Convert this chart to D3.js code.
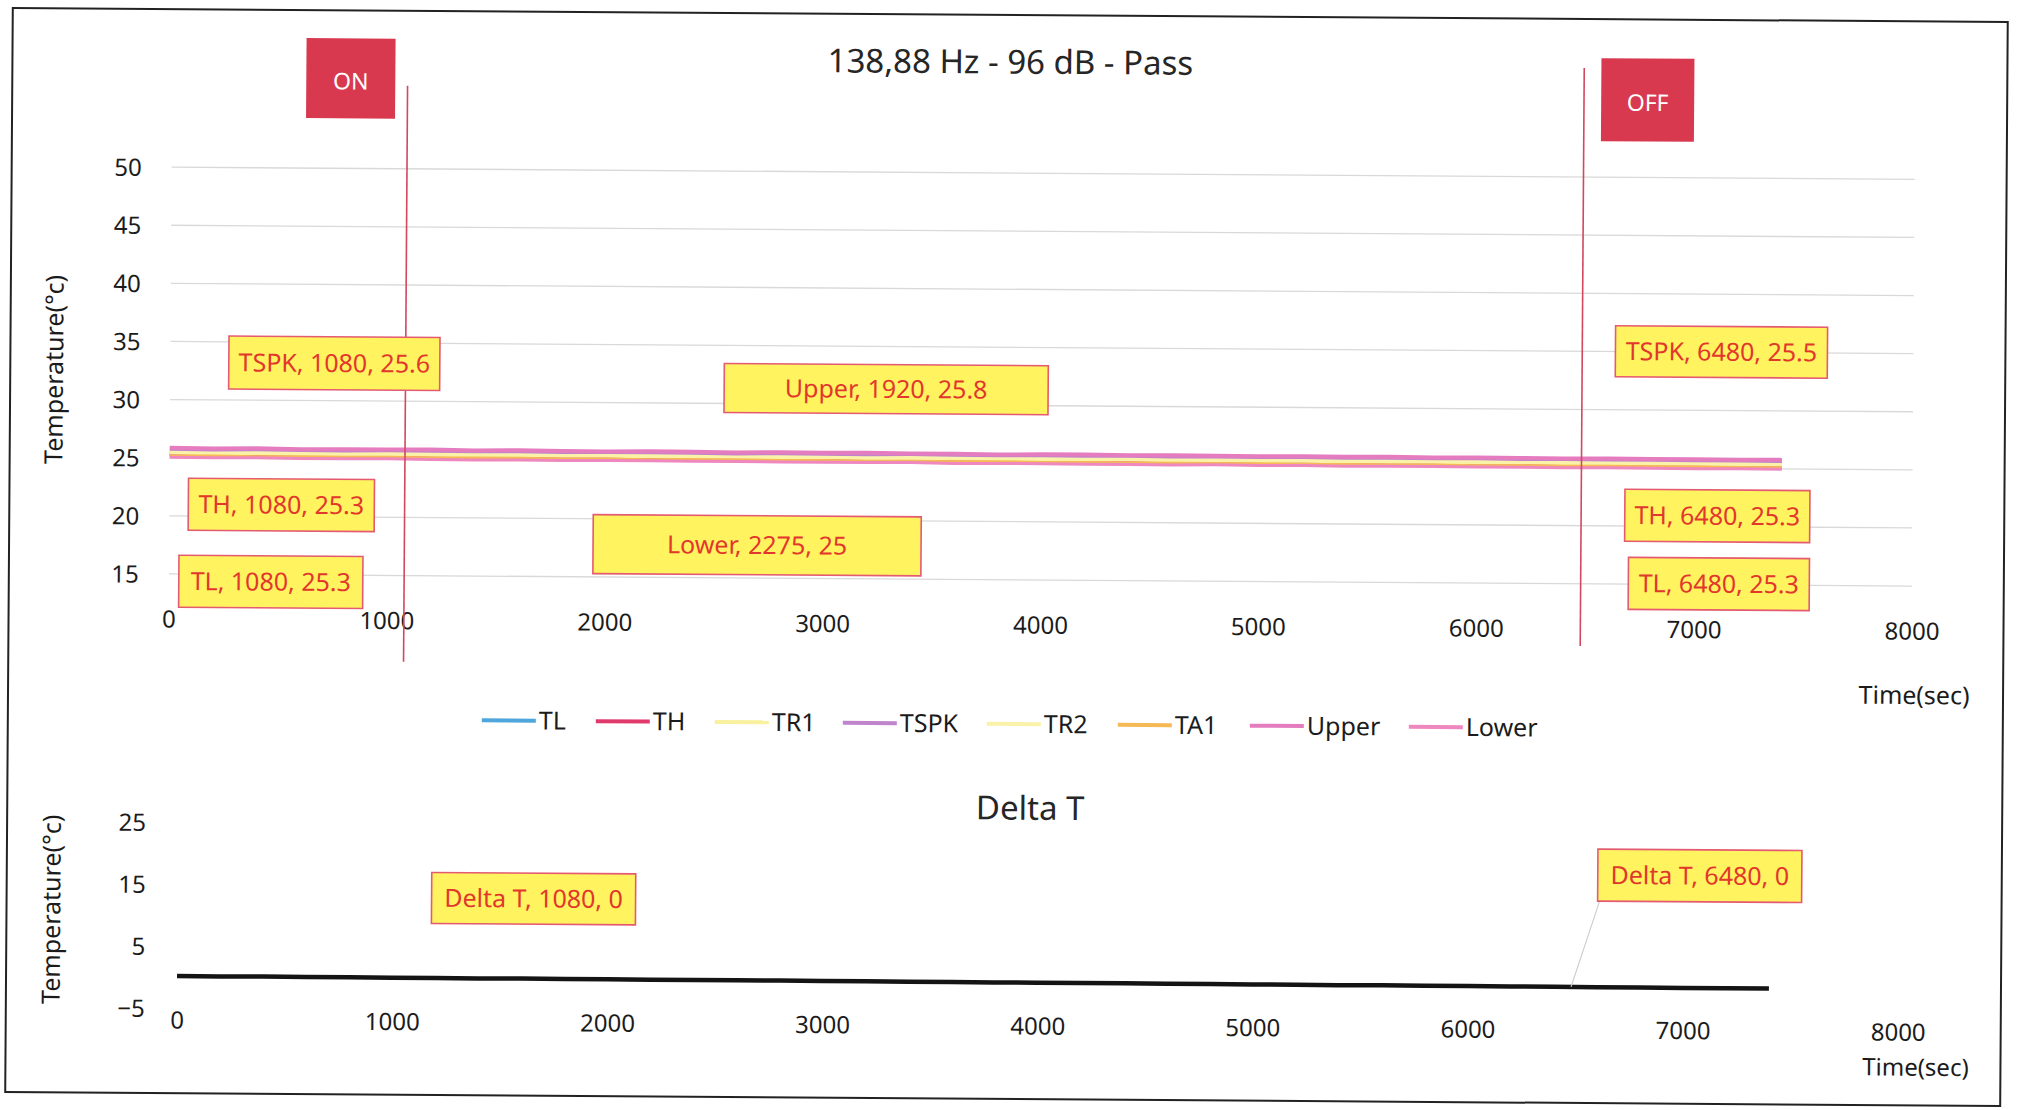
<!DOCTYPE html>
<html><head><meta charset="utf-8">
<script src="https://cdn.jsdelivr.net/npm/d3@7/dist/d3.min.js"></script>
<style>
html,body{margin:0;padding:0;background:#fff;}
svg{display:block;font-family:"Noto Sans",sans-serif;}
</style></head><body>
<svg id="chart" width="2017" height="1110"></svg>
<script>
// ---------------- DATA ----------------
const chartTitle = "138,88 Hz - 96 dB - Pass";
const deltaTitle = "Delta T";
const yTitle = "Temperature(°c)";
const xTitle = "Time(sec)";

const times = [0,200,400,600,800,1000,1200,1400,1600,1800,2000,2200,2400,2600,2800,3000,3200,3400,3600,3800,
               4000,4200,4400,4600,4800,5000,5200,5400,5600,5800,6000,6200,6400,6600,6800,7000,7200,7400];

const TL    = [25.30,25.32,25.28,25.31,25.30,25.29,25.31,25.30,25.28,25.30,25.31,25.29,25.30,25.28,25.30,25.29,25.31,25.30,25.28,25.29,
               25.30,25.28,25.29,25.30,25.27,25.29,25.28,25.30,25.27,25.28,25.29,25.27,25.30,25.28,25.27,25.29,25.27,25.28];
const TH    = [25.31,25.29,25.32,25.30,25.28,25.31,25.30,25.32,25.29,25.30,25.28,25.31,25.29,25.30,25.31,25.28,25.30,25.29,25.31,25.28,
               25.29,25.30,25.28,25.27,25.29,25.30,25.27,25.28,25.29,25.27,25.28,25.30,25.29,25.26,25.28,25.27,25.28,25.26];
const TR1   = [25.40,25.36,25.39,25.35,25.38,25.41,25.37,25.36,25.39,25.35,25.38,25.37,25.34,25.38,25.36,25.39,25.35,25.37,25.36,25.34,
               25.37,25.35,25.38,25.34,25.36,25.33,25.37,25.35,25.34,25.36,25.33,25.35,25.34,25.36,25.32,25.35,25.33,25.34];
const TSPK  = [25.62,25.58,25.61,25.57,25.60,25.59,25.62,25.58,25.60,25.57,25.61,25.59,25.56,25.60,25.58,25.57,25.59,25.55,25.58,25.56,
               25.57,25.59,25.55,25.57,25.54,25.56,25.58,25.54,25.56,25.53,25.55,25.57,25.52,25.54,25.53,25.55,25.52,25.53];
const TR2   = [25.46,25.43,25.47,25.44,25.42,25.46,25.45,25.43,25.47,25.42,25.44,25.46,25.43,25.41,25.45,25.44,25.42,25.46,25.43,25.41,
               25.44,25.42,25.45,25.40,25.43,25.42,25.44,25.40,25.42,25.41,25.43,25.39,25.42,25.40,25.41,25.39,25.40,25.38];
const TA1   = [25.15,25.18,25.13,25.16,25.14,25.17,25.12,25.15,25.16,25.13,25.15,25.12,25.16,25.14,25.13,25.15,25.11,25.14,25.13,25.15,
               25.12,25.14,25.11,25.13,25.12,25.14,25.10,25.13,25.11,25.12,25.10,25.13,25.11,25.12,25.10,25.11,25.09,25.10];
const Upper = [25.85,25.82,25.86,25.80,25.84,25.83,25.87,25.81,25.84,25.82,25.80,25.85,25.82,25.79,25.83,25.81,25.84,25.80,25.82,25.78,
               25.81,25.83,25.79,25.82,25.80,25.78,25.81,25.79,25.82,25.78,25.80,25.79,25.77,25.80,25.78,25.79,25.76,25.78];
const Lower = [25.03,25.01,25.04,25.00,25.02,25.03,25.01,24.99,25.02,25.00,25.01,25.03,25.00,25.02,24.99,25.01,25.00,25.02,24.98,25.00,
               25.01,24.99,25.00,24.98,25.01,24.99,25.00,24.97,24.99,25.00,24.98,24.99,24.97,25.00,24.98,24.97,24.99,24.98];
const deltaT = [0.20,0.18,0.21,0.17,0.19,0.16,0.18,0.15,0.17,0.14,0.15,0.13,0.14,0.12,0.13,0.10,0.12,0.09,0.10,0.08,
                0.09,0.07,0.08,0.05,0.07,0.04,0.05,0.03,0.04,0.02,0.03,0.00,0.02,-0.01,0.00,-0.03,-0.02,-0.04];

const seriesNames = ["TL","TH","TR1","TSPK","TR2","TA1","Upper","Lower"];
const seriesValues = {TL, TH, TR1, TSPK, TR2, TA1, Upper, Lower};

const tempTicks  = [15,20,25,30,35,40,45,50];
const timeTicks  = [0,1000,2000,3000,4000,5000,6000,7000,8000];
const deltaTicks = [-5,5,15,25];

const events = [{label:"ON", t:1080},{label:"OFF", t:6480}];
const topLabels = [
  {series:"TSPK",  t:1080, v:"25.6"},
  {series:"Upper", t:1920, v:"25.8"},
  {series:"TH",    t:1080, v:"25.3"},
  {series:"Lower", t:2275, v:"25"},
  {series:"TL",    t:1080, v:"25.3"},
  {series:"TSPK",  t:6480, v:"25.5"},
  {series:"TH",    t:6480, v:"25.3"},
  {series:"TL",    t:6480, v:"25.3"}
];
const deltaLabels = [
  {series:"Delta T", t:1080, v:"0"},
  {series:"Delta T", t:6480, v:"0"}
];

// ---------------- STYLE / LAYOUT ----------------
const colors = {TL:"#4ea6dc", TH:"#e03a6c", TR1:"#f9f1a0", TSPK:"#bf84cc", TR2:"#faf2a8",
                TA1:"#f5b955", Upper:"#e57cc0", Lower:"#ee88bf"};
const widths = {TL:3, TH:3, TR1:3, TSPK:3.5, TR2:3, TA1:3, Upper:4, Lower:3};
const FONT = "Noto Sans";
const topLabelBoxes = [
  {cx:333, cy:368, w:211, h:53},
  {cx:885, cy:390, w:324, h:49},
  {cx:281, cy:510, w:186, h:52},
  {cx:757, cy:547, w:328, h:59},
  {cx:271, cy:587, w:184, h:52},
  {cx:1720, cy:347, w:212, h:51},
  {cx:1717, cy:511, w:185, h:52},
  {cx:1719, cy:579, w:181, h:52}
];
const deltaLabelBoxes = [
  {cx:536, cy:902, w:204, h:51},
  {cx:1702, cy:871, w:204, h:52}
];
const eventLayout = [
  {bx:303, by:43, bw:89, bh:80, lineTop:90, lineBot:666},
  {bx:1598, by:54, bw:93, bh:83, lineTop:64, lineBot:642}
];
const legendX = [483, 597, 716, 844, 988, 1119, 1251, 1410];
const legendY = 724;

// ---------------- DRAW ----------------
const svg = d3.select("#chart");
svg.append("rect").attr("width",2017).attr("height",1110).attr("fill","#fff");
const root = svg.append("g").attr("transform","rotate(0.4 1008 555)");

root.append("rect").attr("x",9).attr("y",15).attr("width",1995).attr("height",1084)
  .attr("fill","none").attr("stroke","#222").attr("stroke-width",2);

// ---- top chart ----
const x = d3.scaleLinear().domain([0,8000]).range([169,1912]);
const y = d3.scaleLinear().domain([13,50]).range([603,173]);

root.append("g").selectAll("line").data(tempTicks).join("line")
  .attr("x1",x(0)).attr("x2",x(8000)).attr("y1",d=>y(d)).attr("y2",d=>y(d))
  .attr("stroke","#d9d9d9").attr("stroke-width",1.3);

const yAx = root.append("g").attr("transform",`translate(${x(0)},0)`)
  .call(d3.axisLeft(y).tickValues(tempTicks).tickSize(0).tickPadding(30));
yAx.select(".domain").remove();
yAx.selectAll("text").attr("font-size",24).attr("font-family",FONT).attr("fill","#1b1b1b").attr("dy","0.35em");

const xAx = root.append("g").attr("transform","translate(0,625)")
  .call(d3.axisBottom(x).tickValues(timeTicks).tickSize(0).tickFormat(d3.format("d")));
xAx.select(".domain").remove();
xAx.selectAll("text").attr("y",0).attr("dy","0.35em").attr("font-size",24).attr("font-family",FONT).attr("fill","#1b1b1b");

const line = d3.line().x((d,i)=>x(times[i])).y(d=>y(d)).curve(d3.curveLinear);
seriesNames.forEach(name=>{
  root.append("path").datum(seriesValues[name]).attr("d",line)
    .attr("fill","none").attr("stroke",colors[name]).attr("stroke-width",widths[name])
    .attr("stroke-linejoin","round");
});

// titles
root.append("text").attr("x",1007).attr("y",62).attr("dy","0.35em").attr("text-anchor","middle")
  .attr("font-size",33).attr("font-family",FONT).attr("fill","#262626").text(chartTitle);
root.append("text").attr("transform","translate(53,376) rotate(-90)").attr("dy","0.35em")
  .attr("text-anchor","middle").attr("font-size",25).attr("font-family",FONT).attr("fill","#1b1b1b").text(yTitle);
root.append("text").attr("x",1915).attr("y",689).attr("dy","0.35em").attr("text-anchor","middle")
  .attr("font-size",25).attr("font-family",FONT).attr("fill","#1b1b1b").text(xTitle);

// events
events.forEach((e,i)=>{
  const L = eventLayout[i];
  root.append("line").attr("x1",x(e.t)).attr("x2",x(e.t)).attr("y1",L.lineTop).attr("y2",L.lineBot)
    .attr("stroke","#d24860").attr("stroke-width",1.6);
  root.append("rect").attr("x",L.bx).attr("y",L.by).attr("width",L.bw).attr("height",L.bh).attr("fill","#d8394f");
  root.append("text").attr("x",L.bx+L.bw/2).attr("y",L.by+L.bh/2+3).attr("dy","0.35em").attr("text-anchor","middle")
    .attr("font-size",23).attr("font-family",FONT).attr("fill","#fff").text(e.label);
});

function drawLabels(labels, boxes){
  labels.forEach((d,i)=>{
    const b = boxes[i];
    root.append("rect").attr("x",b.cx-b.w/2).attr("y",b.cy-b.h/2).attr("width",b.w).attr("height",b.h)
      .attr("fill","#fff35f").attr("stroke","#e45a70").attr("stroke-width",1.6);
    root.append("text").attr("x",b.cx).attr("y",b.cy).attr("dy","0.35em").attr("text-anchor","middle")
      .attr("font-size",25).attr("font-family",FONT).attr("fill","#e2372c")
      .text(`${d.series}, ${d.t}, ${d.v}`);
  });
}
drawLabels(topLabels, topLabelBoxes);

// legend
seriesNames.forEach((name,i)=>{
  const lx = legendX[i];
  root.append("line").attr("x1",lx).attr("x2",lx+54).attr("y1",legendY).attr("y2",legendY)
    .attr("stroke",colors[name]).attr("stroke-width",4);
  root.append("text").attr("x",lx+57).attr("y",legendY).attr("dy","0.35em")
    .attr("font-size",25).attr("font-family",FONT).attr("fill","#1b1b1b").text(name);
});

// ---- bottom chart ----
const x2 = d3.scaleLinear().domain([0,8000]).range([180,1901]);
const y2 = d3.scaleLinear().domain([-5,25]).range([1014,828]);

const y2Ax = root.append("g").attr("transform",`translate(${x2(0)},0)`)
  .call(d3.axisLeft(y2).tickValues(deltaTicks).tickSize(0).tickPadding(32));
y2Ax.select(".domain").remove();
y2Ax.selectAll("text").attr("font-size",24).attr("font-family",FONT).attr("fill","#1b1b1b").attr("dy","0.35em");

const x2Ax = root.append("g").attr("transform","translate(0,1026)")
  .call(d3.axisBottom(x2).tickValues(timeTicks).tickSize(0).tickFormat(d3.format("d")));
x2Ax.select(".domain").remove();
x2Ax.selectAll("text").attr("y",0).attr("dy","0.35em").attr("font-size",24).attr("font-family",FONT).attr("fill","#1b1b1b");

const line2 = d3.line().x((d,i)=>x2(times[i])).y(d=>y2(d));
root.append("path").datum(deltaT).attr("d",line2).attr("fill","none")
  .attr("stroke","#141414").attr("stroke-width",4.5).attr("stroke-linejoin","round");

root.append("text").attr("x",1032).attr("y",808).attr("dy","0.35em").attr("text-anchor","middle")
  .attr("font-size",33).attr("font-family",FONT).attr("fill","#262626").text(deltaTitle);
root.append("text").attr("transform","translate(54,916) rotate(-90)").attr("dy","0.35em")
  .attr("text-anchor","middle").attr("font-size",25).attr("font-family",FONT).attr("fill","#1b1b1b").text(yTitle);
root.append("text").attr("x",1919).attr("y",1061).attr("dy","0.35em").attr("text-anchor","middle")
  .attr("font-size",24).attr("font-family",FONT).attr("fill","#1b1b1b").text(xTitle);

// leader line for the OFF-side delta label
{
  const b = deltaLabelBoxes[1];
  const idx = times.findIndex(t=>t>=deltaLabels[1].t);
  root.append("line").attr("x1",b.cx-b.w/2+2).attr("y1",b.cy+b.h/2)
    .attr("x2",x2(deltaLabels[1].t)).attr("y2",y2(deltaT[idx]))
    .attr("stroke","#c8c8c8").attr("stroke-width",1);
}
drawLabels(deltaLabels, deltaLabelBoxes);
</script>
</body></html>
